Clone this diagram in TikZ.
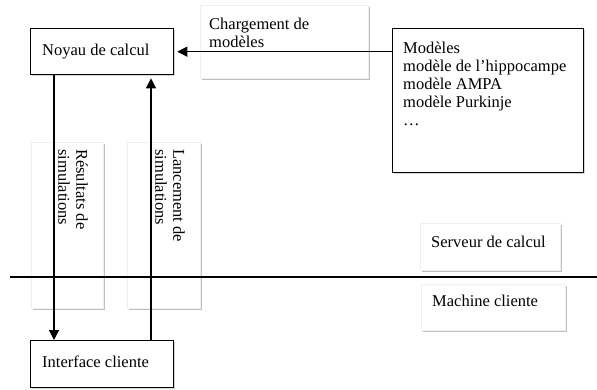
\documentclass[tikz,border=0pt]{standalone}
\usepackage{fontspec}
\setmainfont{Liberation Serif}
\usetikzlibrary{arrows.meta,shadows,calc}
\begin{document}
\begin{tikzpicture}[x=1pt,y=-1pt,
  every node/.style={font=\fontsize{16.5}{18}\selectfont},
  frame/.style={draw=black, line width=1.3pt, fill=white, rectangle, inner sep=0pt, anchor=north west,
    drop shadow={shadow xshift=1pt, shadow yshift=-1.5pt, fill=black!40, opacity=0.4}},
  paper/.style={draw=black!6, line width=0.6pt, fill=white, rectangle, inner sep=0pt, anchor=north west,
    drop shadow={shadow xshift=1.5pt, shadow yshift=-2pt, fill=black!50, opacity=0.5}},
  lbl/.style={inner sep=0pt, anchor=base west},
  mlbl/.style={inner sep=0pt, anchor=north west, align=left},
  arr/.style={line width=1.3pt, -{Triangle[length=10pt,width=10pt]}}]

\useasboundingbox (0,0) rectangle (597,389);

% white label sheets
\node[paper, minimum width=168pt, minimum height=73pt] (charg) at (200,5) {};
\node[paper, minimum width=72pt, minimum height=166pt] (res) at (31,142) {};
\node[paper, minimum width=73pt, minimum height=166pt] (lanc) at (127,142) {};
\node[paper, minimum width=140pt, minimum height=47pt] (serv) at (420,223) {};
\node[paper, minimum width=144pt, minimum height=46pt] (mach) at (421,284) {};

\node[mlbl, font=\fontsize{16.5}{17.5}\selectfont] (chargtxt) at (209,18.2) {Chargement de\\modèles};
\node[mlbl, rotate=-90] (restxt) at (88,149) {Résultats de\\simulations};
\node[mlbl, rotate=-90] (lanctxt) at (185,149) {Lancement de\\simulations};
\node[lbl] (servtxt) at (431,247) {Serveur de calcul};
\node[lbl] (machtxt) at (432,306.7) {Machine cliente};

% separation line
\coordinate (hl) at (10,277);
\coordinate (hr) at (597,277);
\draw[line width=1.3pt] (hl) -- (hr);

% framed boxes
\node[frame, minimum width=143pt, minimum height=46pt] (noyau) at (30,28) {};
\node[lbl] (noyautxt) at (42,55) {Noyau de calcul};
\node[frame, minimum width=191pt, minimum height=144pt] (modeles) at (392,28) {};
\node[mlbl] (modtxt) at (403,42) {Modèles\\modèle de l’hippocampe\\modèle AMPA\\modèle Purkinje\\…};
\node[frame, minimum width=143pt, minimum height=47pt] (iface) at (30,340) {};
\node[lbl] (ifacetxt) at (42,367) {Interface cliente};

% connectors
\draw[arr, shorten >=3pt] (modeles.west |- noyau.east) -- (noyau.east);
\draw[arr] ($(noyau.south west)+(24,0)$) -- ($(iface.north west)+(24,0)$);
\draw[arr, shorten >=3pt] ($(iface.north west)+(121,0)$) -- ($(noyau.south west)+(121,0)$);
\end{tikzpicture}
\end{document}
